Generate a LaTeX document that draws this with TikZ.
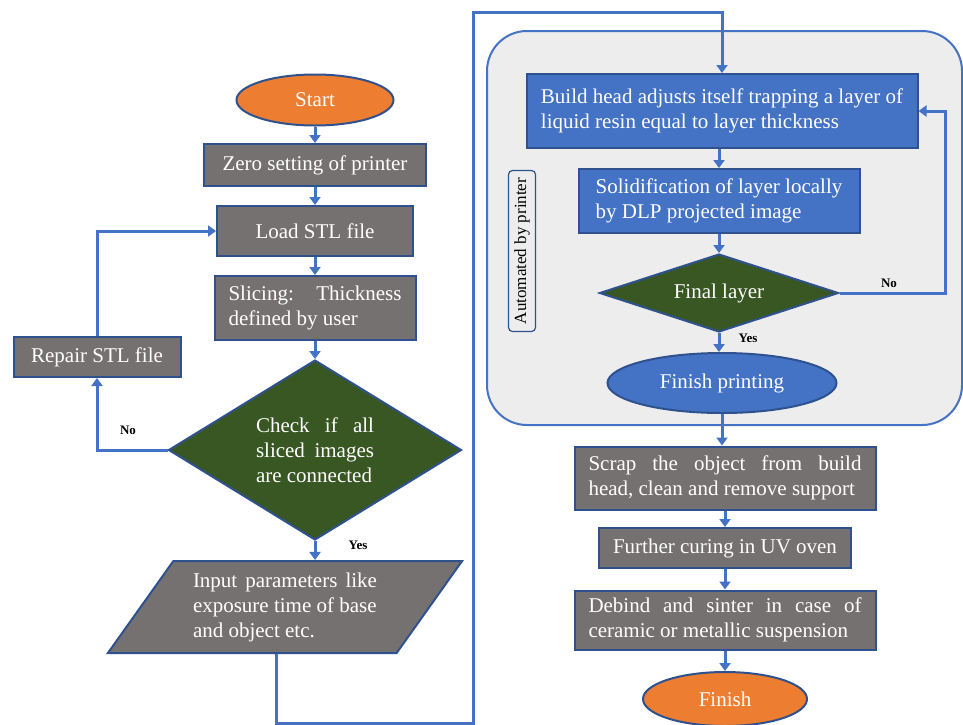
\documentclass[tikz,border=0pt]{standalone}
\usepackage{fontspec}
\setmainfont{Liberation Serif}
\usetikzlibrary{shapes.geometric,arrows.meta,positioning}

\definecolor{boxgray}{HTML}{767171}
\definecolor{lineblue}{HTML}{4472C4}
\definecolor{edgeblue}{HTML}{2F528F}
\definecolor{procblue}{HTML}{4472C4}
\definecolor{termorange}{HTML}{ED7D31}
\definecolor{decgreen}{HTML}{385723}
\definecolor{panelgray}{HTML}{EDEDED}

\newcommand{\spreadline}[2]{\makebox[#1][s]{#2}}

\begin{document}
\begin{tikzpicture}[x=1pt,y=-1pt,>={Triangle[length=8pt,width=11pt]},
    every node/.style={font=\fontsize{21}{25}\selectfont},
    flow/.style={->,draw=lineblue,line width=3pt},
    proc/.style={rectangle,draw=edgeblue,line width=2pt,fill=boxgray,text=white,inner sep=0pt},
    stepblue/.style={proc,fill=procblue},
    term/.style={ellipse,draw=edgeblue,line width=2pt,fill=termorange,text=white,inner sep=0pt},
    decide/.style={diamond,draw=edgeblue,line width=2pt,fill=decgreen,text=white,inner sep=0pt},
    panel/.style={draw=lineblue,line width=2pt,fill=panelgray,rounded corners=40pt},
    autotag/.style={draw=edgeblue,line width=1.2pt,fill=panelgray,rounded corners=4pt,rotate=90,
      font=\fontsize{17}{20}\selectfont,inner sep=0pt},
    lbl/.style={font=\fontsize{13}{15}\selectfont\bfseries}]
  \useasboundingbox (0,0) rectangle (963,724);

  % automated part
  \node[panel,minimum width=475,minimum height=394] (panel) at (724.5,228) {};
  \node[autotag,minimum width=161,minimum height=27] (auto) at (522,251) {Automated by printer};

  % left column
  \node[term,minimum width=157,minimum height=51] (start) at (315,100) {Start};
  \node[proc,minimum width=222,minimum height=42] (zero) at (315,165) {Zero setting of printer};
  \node[proc,minimum width=196,minimum height=50] (load) at (315,231) {Load STL file};
  \node[proc,minimum width=201,minimum height=64,align=left] (slice) at (315,308)
    {\spreadline{173pt}{Slicing: Thickness}\\defined by user};
  \node[proc,minimum width=167,minimum height=40] (repair) at (97,357) {Repair STL file};
  \node[decide,aspect=1.6,minimum width=293,minimum height=180,align=left] (check) at (315,450)
    {\spreadline{118pt}{Check if all}\\\spreadline{118pt}{sliced images}\\are connected};
  \node[proc,trapezium,trapezium left angle=52,trapezium right angle=128,trapezium stretches=true,
    minimum width=355,minimum height=92,align=left] (input) at (285,607)
    {\spreadline{184pt}{Input parameters like}\\exposure time of base\\and object etc.};

  % right column
  \node[stepblue,minimum width=391,minimum height=74,align=left] (build) at (722,111)
    {Build head adjusts itself trapping a layer of\\liquid resin equal to layer thickness};
  \node[stepblue,minimum width=281,minimum height=64,align=left] (solid) at (719,201)
    {Solidification of layer locally\\by DLP projected image};
  \node[decide,aspect=3,minimum width=239,minimum height=78] (final) at (719,293) {Final layer};
  \node[term,fill=procblue,minimum width=229,minimum height=60] (finprint) at (722,383) {Finish printing};
  \node[proc,minimum width=301,minimum height=63,align=left] (scrap) at (725,478)
    {\spreadline{273pt}{Scrap the object from build}\\head, clean and remove support};
  \node[proc,minimum width=252,minimum height=40] (cure) at (725,548) {Further curing in UV oven};
  \node[proc,minimum width=301,minimum height=59,align=left] (debind) at (725,620)
    {\spreadline{273pt}{Debind and sinter in case of}\\ceramic or metallic suspension};
  \node[term,minimum width=164,minimum height=54] (finish) at (725,699) {Finish};

  % connectors
  \draw[flow] (start) -- (zero);
  \draw[flow] (zero) -- (load);
  \draw[flow] (load) -- (slice);
  \draw[flow] (slice) -- (check);
  \draw[flow] (check) -- (check |- input.north);
  \draw[flow] (check.west) -| (repair.south);
  \draw[flow] (repair.north) |- (load.west);

  \coordinate (dn) at (276,723);
  \coordinate (up) at (473,12);
  \draw[flow] (input.south -| dn) -- (dn) -| (up) -| (build.north);

  \draw[flow] (build.south -| solid) -- (solid);
  \draw[flow] (solid) -- (final);
  \draw[flow] (final.south) -- (final.south |- finprint.north);
  \coordinate (loopx) at (945,293);
  \draw[flow] (final.east) -- (loopx) |- (build.east);
  \draw[flow] (finprint.south) -- (finprint.south |- scrap.north);
  \draw[flow] (scrap) -- (cure);
  \draw[flow] (cure) -- (debind);
  \draw[flow] (debind) -- (finish);

  % branch labels
  \node[lbl] (no1) at (128,430) {No};
  \node[lbl] (yes1) at (358,545) {Yes};
  \node[lbl] (no2) at (889,283) {No};
  \node[lbl] (yes2) at (748,338) {Yes};
\end{tikzpicture}
\end{document}
